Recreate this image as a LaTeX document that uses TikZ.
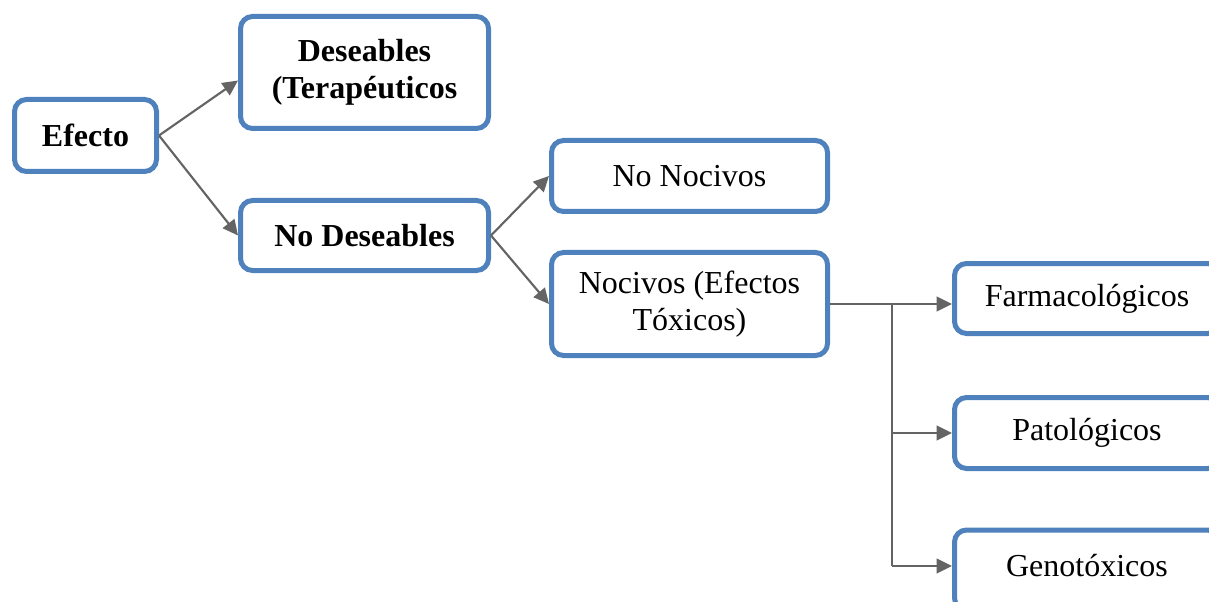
\documentclass[tikz,border=0pt]{standalone}
\usepackage{fontspec}
\setmainfont{Liberation Serif}
\usetikzlibrary{arrows.meta}
\usetikzlibrary{calc}

\definecolor{boxblue}{RGB}{79,129,189}
\definecolor{arrowgray}{RGB}{100,100,100}

\begin{document}
\begin{tikzpicture}[x=0.75pt, y=-0.75pt,
>={Triangle[length=11.5pt, width=11pt]},
caja/.style={draw=boxblue, line width=3.75pt, rounded corners=9pt, fill=white,
  align=center, inner sep=0pt, font=\fontsize{24}{27.75}\selectfont},
fuerte/.style={caja, font=\fontsize{24}{27.75}\selectfont\bfseries},
flecha/.style={->, draw=arrowgray, fill=arrowgray, line width=1.6pt}]

%%%%%% MARCO %%%%%%%%%%

\useasboundingbox (0,0) rectangle (1209,602);
\clip (0,0) rectangle (1209,602);

%%%%%% CAJAS %%%%%%%%%%

\node [fuerte, minimum width=0.75*142pt, minimum height=0.75*72pt] (efecto) at (85.5,135.5) {Efecto};
\node [fuerte, minimum width=0.75*248pt, minimum height=0.75*112pt] (deseables) at (364.5,72.5) {Deseables\\(Terapéuticos};
\node [fuerte, minimum width=0.75*248pt, minimum height=0.75*70pt] (nodeseables) at (364.5,235.5) {No Deseables};

\node [caja, minimum width=0.75*276pt, minimum height=0.75*71pt] (nonocivos) at (689.5,176) {No Nocivos};
\node [caja, minimum width=0.75*276pt, minimum height=0.75*103pt] (nocivos) at (689.5,304) {Nocivos (Efectos\\Tóxicos)};

\node [caja, minimum width=0.75*265pt, minimum height=0.75*70pt] (farma) at (1087,298.5) {Farmacológicos};
\node [caja, minimum width=0.75*265pt, minimum height=0.75*71pt] (pato) at (1087,433) {Patológicos};
\node [caja, minimum width=0.75*265pt, minimum height=0.75*80pt] (geno) at (1087,570) {};
\node [font=\fontsize{24}{27.75}\selectfont] (genotexto) at (1087,566) {Genotóxicos};

%%%%%% FLECHAS %%%%%%%%%%

\draw [flecha] (efecto.east) -- ([yshift=-6pt]deseables.west);
\draw [flecha] (efecto.east) -- (nodeseables.west);
\draw [flecha] (nodeseables.east) -- (nonocivos.west);
\draw [flecha] (nodeseables.east) -- (nocivos.west);

\coordinate (rama) at (892,304);
\draw [flecha] (nocivos.east) -- (nocivos.east -| farma.west);
\draw [draw=arrowgray, line width=1.6pt] (rama) -- (rama |- genotexto.west);
\draw [flecha] (rama |- pato.west) -- (pato.west);
\draw [flecha] (rama |- genotexto.west) -- (genotexto.west -| geno.west);
\end{tikzpicture}
\end{document}
